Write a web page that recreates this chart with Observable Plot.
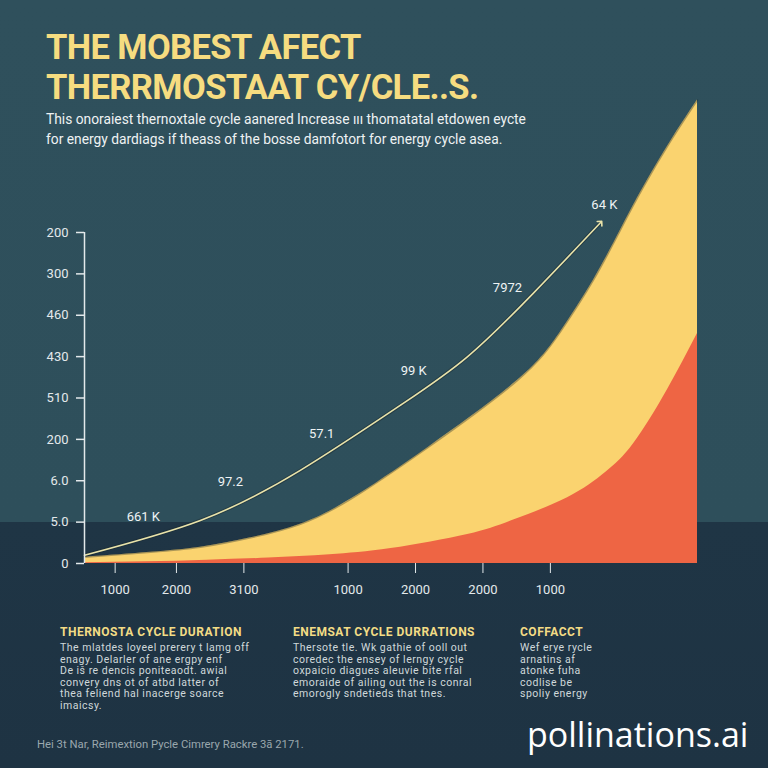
<!DOCTYPE html>
<html>
<head>
<meta charset="utf-8">
<script src="https://cdn.jsdelivr.net/npm/d3@7"></script>
<script src="https://cdn.jsdelivr.net/npm/@observablehq/plot@0.6"></script>
<style>
  html, body { margin: 0; padding: 0; }
  body {
    width: 768px; height: 768px; overflow: hidden; position: relative;
    background: linear-gradient(to bottom, #2f505c 0px, #2e4f5b 522px, #1f3545 522px, #1e3343 768px);
    font-family: Roboto, "Liberation Sans", sans-serif;
  }
  #chart { position: absolute; left: 0; top: 0; }
  .abs { position: absolute; white-space: nowrap; }
  #title { left: 46px; top: 27px; color: #f6dc80; font-weight: 700; font-size: 34.5px; line-height: 40px; letter-spacing: -0.6px; }
  #subtitle { left: 46px; top: 110px; color: #eef2f3; font-size: 13.8px; line-height: 19.5px; }
  .col { position: absolute; top: 625px; }
  .col h3 { margin: 0 0 2px 0; color: #f3dc85; font-size: 12px; font-weight: 700; letter-spacing: 0.5px; line-height: 15px; }
  .col p { margin: 0; color: #cfd8da; font-size: 10.5px; line-height: 11.6px; letter-spacing: 0.5px; white-space: nowrap; }
  #footer { left: 37px; top: 738px; color: #9aa7ad; font-size: 11.3px; }
  #wm { left: 527px; top: 711px; color: #ffffff; font-size: 34px; line-height: normal; font-family: "Open Sans", Roboto, sans-serif; }
</style>
</head>
<body>
<div id="chart"></div>
<div id="title" class="abs"></div>
<div id="subtitle" class="abs"></div>
<div id="cols"></div>
<div id="footer" class="abs"></div>
<div id="wm" class="abs"></div>
<script>
// ---- text ----
const titleLines = ["THE MOBEST AFECT", "THERRMOSTAAT CY/CLE..S."];
const subtitleLines = [
  "This onoraiest thernoxtale cycle aanered Increase \u0131\u0131\u0131 thomatatal etdowen eycte",
  "for energy dardiags if theass of the bosse damfotort for energy cycle asea."
];
const colHeadings = ["THERNOSTA CYCLE DURATION", "ENEMSAT CYCLE DURRATIONS", "COFFACCT"];
const colBodies = [
  ["The mlatdes loyeel prerery t lamg off", "enagy. Delarler of ane ergpy enf", "De i\u0161 re dencis poniteaodt. awial", "convery dns ot of atbd latter of", "thea feliend hal inacerge soarce", "imaicsy."],
  ["Thersote tle. Wk gathie of ooll out", "coredec the ensey of lerngy cycle", "oxpaicio diagues aleuvie bite rfal", "emoraide of ailing out the is conral", "emorogly sndetieds that tnes."],
  ["Wef erye rycle", "arnatins af", "atonke fuha", "codlise be", "spoliy energy"]
];
const colLefts = [60, 293, 520];
const footerText = "Hei 3t Nar, Reimextion Pycle Cimrery Rackre 3\u00e3 2171.";
const watermark = "pollinations.ai";

// ---- axes ----
const yTickValues = [0, 1, 2, 3, 4, 5, 6, 7, 8];
const yTickLabels = ["0", "5.0", "6.0", "200", "510", "430", "460", "300", "200"];
const xTickValues = [5, 15, 26, 43, 54, 65, 76];
const xTickLabels = ["1000", "2000", "3100", "1000", "2000", "2000", "1000"];

// ---- series ----
const yellowX = [0, 10.8, 18.9, 27.1, 35.2, 43.4, 56, 70.6, 77.7, 83, 87.4, 91.2, 95.6, 100];
const yellowY = [0.15, 0.27, 0.39, 0.62, 0.95, 1.55, 2.8, 4.42, 5.61, 6.84, 8.05, 9.1, 10.2, 11.2];
const redX = [0, 10, 20, 30, 40, 50, 62.5, 70, 78.8, 85, 89.6, 95.1, 100];
const redY = [0.02, 0.04, 0.08, 0.13, 0.21, 0.36, 0.7, 1.05, 1.59, 2.2, 2.9, 4.2, 5.56];
const lineX = [0, 18.9, 35.2, 51.5, 62.5, 73.2, 84.2];
const lineY = [0.2, 1.04, 2.25, 3.82, 5.0, 6.53, 8.24];
const labelX = [9.6, 23.8, 38.7, 53.7, 69, 84.8];
const labelY = [1.14, 1.98, 3.14, 4.66, 6.67, 8.68];
const labelText = ["661 K", "97.2", "57.1", "99 K", "7972", "64 K"];

const yellow = yellowX.map((x, i) => ({x, y: yellowY[i]}));
const red = redX.map((x, i) => ({x, y: redY[i]}));
const line = lineX.map((x, i) => ({x, y: lineY[i]}));
const labels = labelX.map((x, i) => ({x, y: labelY[i], t: labelText[i]}));

const chart = Plot.plot({
  width: 768,
  height: 768,
  marginLeft: 84,
  marginRight: 71,
  marginTop: 232,
  marginBottom: 205,
  style: { background: "transparent", color: "#e3e9eb", fontFamily: "Roboto, 'Liberation Sans', sans-serif", fontSize: "13px" },
  x: { domain: [0, 100] },
  y: { domain: [0, 8] },
  marks: [
    Plot.areaY(yellow, { x: "x", y: "y", fill: "#fad36f", curve: "natural" }),
    Plot.lineY(yellow, { x: "x", y: "y", stroke: "#18262c", strokeOpacity: 0.35, strokeWidth: 1.5, curve: "natural" }),
    Plot.areaY(red, { x: "x", y: "y", fill: "#ee6544", curve: "natural" }),
    Plot.lineY(line, { x: "x", y: "y", stroke: "#1a2a30", strokeOpacity: 0.5, strokeWidth: 3.5, curve: "natural" }),
    Plot.lineY(line, { x: "x", y: "y", stroke: "#e9e3aa", strokeWidth: 1.6, curve: "natural", markerEnd: "arrow" }),
    Plot.text(labels, { x: "x", y: "y", text: "t", fill: "#eef3f4", fontSize: 13 }),
    Plot.ruleX([0], { y1: 0, y2: 8, stroke: "#e3e9eb", strokeWidth: 1.5 }),
    Plot.axisY({ ticks: yTickValues, tickFormat: (d, i) => yTickLabels[i], tickSize: 8, tickPadding: 8, label: null, fontSize: 13, strokeWidth: 1.5 }),
    Plot.axisX({ ticks: xTickValues, tickFormat: (d, i) => xTickLabels[i], tickSize: 10, tickPadding: 11, label: null, fontSize: 13 })
  ]
});
document.getElementById("chart").appendChild(chart);

document.getElementById("title").innerHTML = titleLines.join("<br>");
document.getElementById("subtitle").innerHTML = subtitleLines.join("<br>");
const cols = document.getElementById("cols");
colHeadings.forEach((h, i) => {
  const d = document.createElement("div");
  d.className = "col";
  d.style.left = colLefts[i] + "px";
  const h3 = document.createElement("h3"); h3.textContent = h; d.appendChild(h3);
  const p = document.createElement("p"); p.innerHTML = colBodies[i].join("<br>"); d.appendChild(p);
  cols.appendChild(d);
});
document.getElementById("footer").textContent = footerText;
document.getElementById("wm").textContent = watermark;
</script>
</body>
</html>
